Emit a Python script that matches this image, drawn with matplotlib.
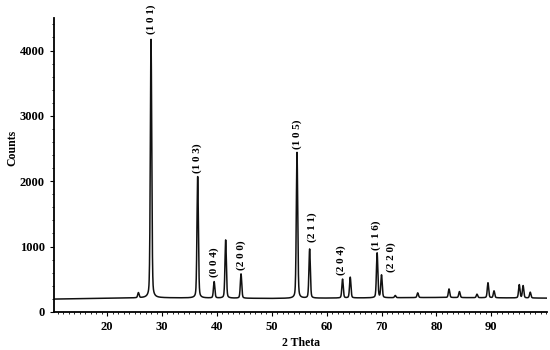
import numpy as np
import matplotlib
matplotlib.use("Agg")
import matplotlib.pyplot as plt
from matplotlib.ticker import MultipleLocator, FixedLocator

# Baseline (2θ, counts)
base_x = [10, 20, 30, 40, 50, 60, 70, 80, 90, 100]
base_y = [195, 210, 215, 210, 205, 210, 215, 220, 215, 210]

# Peaks: position (2θ), total height (counts)
peak_pos = [25.7, 28.0, 36.5, 39.5, 41.6, 44.4, 54.6, 56.9, 62.9, 64.3,
            69.2, 70.0, 72.5, 76.6, 82.3, 84.2, 87.4, 89.4, 90.5, 95.1, 95.8, 97.1]
peak_hgt = [290, 4170, 2070, 460, 1100, 580, 2440, 960, 500, 530,
            900, 560, 250, 290, 350, 310, 270, 445, 320, 415, 400, 300]

# Miller index labels: text, x, y (bottom of label)
lab_text = ["(1 0 1)", "(1 0 3)", "(0 0 4)", "(2 0 0)", "(1 0 5)", "(2 1 1)",
            "(2 0 4)", "(1 1 6)", "(2 2 0)"]
lab_x = [28.0, 36.5, 39.5, 44.4, 54.6, 57.4, 62.6, 69.1, 71.7]
lab_y = [4250, 2130, 540, 640, 2490, 1070, 560, 950, 610]

xticks = [20, 30, 40, 50, 60, 70, 80, 90]
yticks = [0, 1000, 2000, 3000, 4000]

xlim = (10.3, 100.2)
ylim = (0, 4500)

x = np.arange(xlim[0], xlim[1], 0.02)
y = np.interp(x, base_x, base_y)
fw = 0.3
for p, h in zip(peak_pos, peak_hgt):
    amp = h - np.interp(p, base_x, base_y)
    y = y + amp * 0.3 / (1 + ((x - p) / (fw / 2)) ** 2) + amp * 0.7 * np.exp(-4 * np.log(2) * ((x - p) / fw) ** 2)

plt.rcParams['font.family'] = ['Liberation Serif', 'DejaVu Serif']
plt.rcParams['font.weight'] = 'bold'

fig = plt.figure(figsize=(5.5, 3.5), dpi=100)
ax = fig.add_axes([0.098, 0.109, 0.897, 0.84])
ax.plot(x, y, color='#111111', lw=1.1)
ax.set_xlim(*xlim)
ax.set_ylim(*ylim)

for t, lx, ly in zip(lab_text, lab_x, lab_y):
    ax.text(lx, ly, t, rotation=90, ha='center', va='bottom', fontsize=8, fontweight='bold')

ax.spines['top'].set_visible(False)
ax.spines['right'].set_visible(False)
ax.spines['left'].set_linewidth(1.3)
ax.spines['bottom'].set_linewidth(1.3)
ax.xaxis.set_major_locator(FixedLocator(xticks))
ax.xaxis.set_minor_locator(MultipleLocator(1))
ax.yaxis.set_major_locator(FixedLocator(yticks))
ax.yaxis.set_minor_locator(MultipleLocator(200))
ax.tick_params(which='major', direction='out', length=3, width=0.8, labelsize=9)
ax.tick_params(which='minor', direction='out', length=1.5, width=0.6)
for lbl in ax.get_xticklabels() + ax.get_yticklabels():
    lbl.set_fontweight('bold')
ax.set_xlabel('2 Theta', fontsize=8.5, fontweight='bold', labelpad=3)
fig.text(0.022, 0.577, 'Counts', rotation=90, ha='center', va='center',
         fontsize=8.5, fontweight='bold')

fig.savefig('out.png', dpi=100)
